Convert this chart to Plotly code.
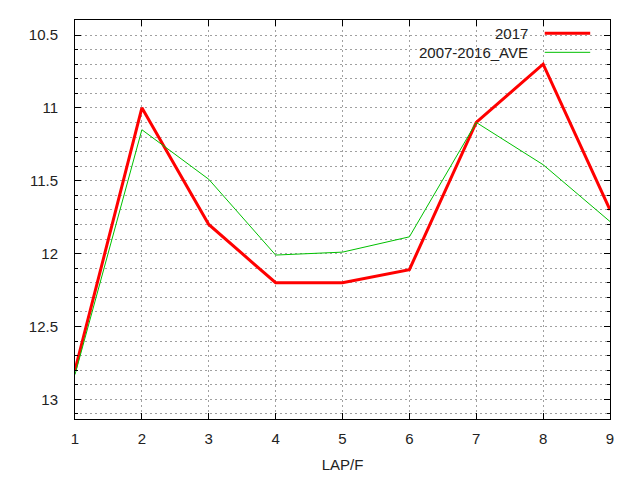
import plotly.graph_objects as go

laps = [1, 2, 3, 4, 5, 6, 7, 8, 9]
y2017 = [12.8, 11.0, 11.8, 12.2, 12.2, 12.11, 11.1, 10.7, 11.7]
y_ave = [12.83, 11.15, 11.49, 12.01, 11.99, 11.885, 11.1, 11.39, 11.78]

names = ['2017', '2007-2016_AVE']
colors = ['#ff0000', '#00c000']
widths = [3, 1]

fig = go.Figure()
for ys, nm, c, w in zip([y2017, y_ave], names, colors, widths):
    fig.add_trace(go.Scatter(x=laps, y=ys, mode='lines', name=nm,
                             line=dict(color=c, width=w), showlegend=False))

# gnuplot style key: text on the left, line sample on the right
for i, (nm, c, w) in enumerate(zip(names, colors, widths)):
    yp = 0.967 - i * 0.048
    fig.add_annotation(x=0.850, y=yp, xref='paper', yref='paper', text=nm,
                       showarrow=False, xanchor='right', yanchor='middle',
                       font=dict(size=15, color='#222222'))
    fig.add_shape(type='line', xref='paper', yref='paper',
                  x0=0.878, x1=0.963, y0=yp, y1=yp,
                  line=dict(color=c, width=w))

fig.update_xaxes(range=[1, 9], dtick=1, tick0=1, showline=True, linecolor='black',
                 linewidth=1, mirror='allticks', ticks='inside', ticklen=6,
                 tickcolor='black', showgrid=True, gridcolor='#a0a0a0',
                 griddash='2px,3px', zeroline=False,
                 title=dict(text='LAP/F', font=dict(size=15, color='#222222'),
                            standoff=13),
                 tickfont=dict(size=15, color='#222222'), ticklabelstandoff=6)
fig.update_yaxes(range=[13.135, 10.397], dtick=0.5, tick0=10.5, showline=True,
                 linecolor='black', linewidth=1, mirror='allticks', ticks='inside',
                 ticklen=6, tickcolor='black', showgrid=True,
                 gridcolor='#a0a0a0', griddash='2px,3px', zeroline=False,
                 tickvals=[10.5, 11, 11.5, 12, 12.5, 13],
                 ticktext=['10.5', '11', '11.5', '12', '12.5', '13'],
                 minor=dict(dtick=0.1, tick0=10.5, ticks='inside', ticklen=3,
                            tickcolor='black', showgrid=True,
                            gridcolor='#a0a0a0', griddash='2px,3px'),
                 tickfont=dict(size=15, color='#222222'), ticklabelstandoff=13)

# page body adds an 8px offset, margins compensate for it
fig.update_layout(width=640, height=480, plot_bgcolor='white', paper_bgcolor='white',
                  margin=dict(l=67, r=38, t=12, b=69),
                  font=dict(family='Liberation Sans, Arial, sans-serif'))

fig.write_html("out.html")
